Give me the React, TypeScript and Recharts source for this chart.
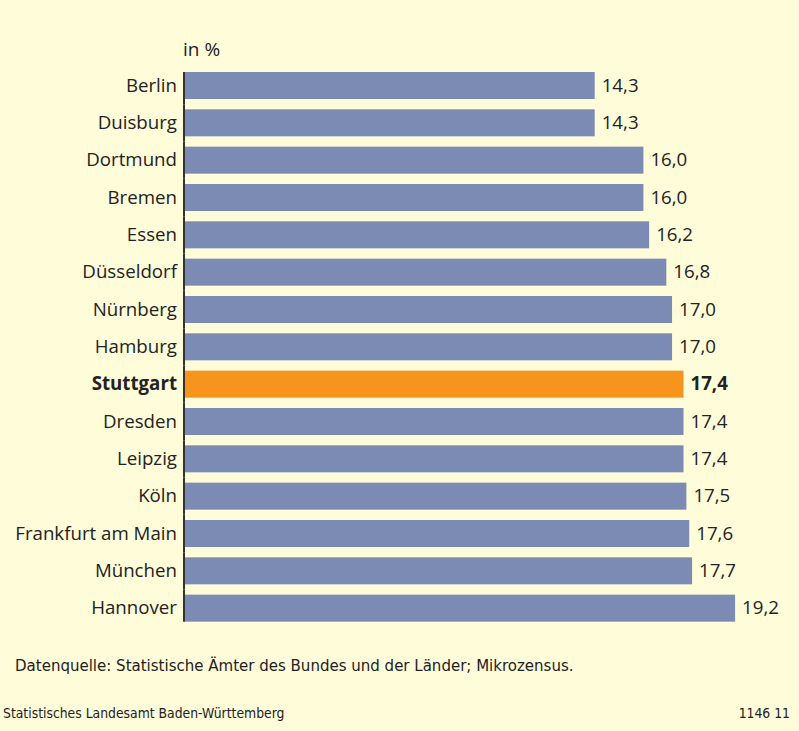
import React from 'react';
import { BarChart, Bar, XAxis, YAxis, Cell, LabelList } from 'recharts';

const cities = ['Berlin', 'Duisburg', 'Dortmund', 'Bremen', 'Essen', 'Düsseldorf', 'Nürnberg', 'Hamburg', 'Stuttgart', 'Dresden', 'Leipzig', 'Köln', 'Frankfurt am Main', 'München', 'Hannover'];
const values = [14.3, 14.3, 16.0, 16.0, 16.2, 16.8, 17.0, 17.0, 17.4, 17.4, 17.4, 17.5, 17.6, 17.7, 19.2];
const highlight = 'Stuttgart';
const unitLabel = 'in %';
const sourceNote = 'Datenquelle: Statistische Ämter des Bundes und der Länder; Mikrozensus.';
const publisher = 'Statistisches Landesamt Baden-Württemberg';
const chartId = '1146 11';

const data = cities.map((name, i) => ({ name, value: values[i] }));

const W = 799;
const H = 731;
const M = { top: 67, right: 41, bottom: 104, left: 0 };
const BAR_SIZE = 27;
const BAND = (H - M.top - M.bottom) / cities.length;
const BG = '#FFFCDA';
const BLUE = '#7B8BB3';
const ORANGE = '#F7941D';
const TEXT = '#222222';
const FONT = "'Open Sans', 'DejaVu Sans', sans-serif";
const NARROW = "'Liberation Sans Narrow', 'DejaVu Sans Condensed', sans-serif";
const FS = 18.7;

const fmt = (v: number) => v.toFixed(1).replace('.', ',');

const BarShape = (props: any) => {
  const { x, y, width, height, fill, index } = props;
  const half = (BAND - height) / 2;
  const y1 = index === 0 ? y : y - half;
  const y2 = index === cities.length - 1 ? y + height : y + height + half;
  return (
    <g>
      <rect x={x} y={y} width={width} height={height} fill={fill} />
      <line x1={x - 1} x2={x - 1} y1={y1} y2={y2} stroke="#333" strokeWidth={2} />
    </g>
  );
};

const CityTick = (props: any) => {
  const { x, y, payload } = props;
  const bold = payload.value === highlight;
  return (
    <text x={x} y={y} dy={6} textAnchor="end" fontFamily={FONT} fontSize={FS} fill={TEXT} fontWeight={bold ? 700 : 400}>
      {payload.value}
    </text>
  );
};

const ValueLabel = (props: any) => {
  const { x, y, width, height, value, index } = props;
  const bold = cities[index] === highlight;
  return (
    <text x={x + width + 7} y={y + height / 2} dy={6} fontFamily={FONT} fontSize={FS} fill={TEXT} fontWeight={bold ? 700 : 400}>
      {fmt(value)}
    </text>
  );
};

export default function App() {
  return (
    <div style={{ position: 'absolute', left: 0, top: 0, width: W, height: H, background: BG, overflow: 'hidden' }}>
      <BarChart width={W} height={H} data={data} layout="vertical" margin={M} barSize={BAR_SIZE}>
        <XAxis type="number" domain={[0, 20]} hide />
        <YAxis type="category" dataKey="name" width={185} axisLine={false} tickLine={false} tick={<CityTick />} interval={0} />
        <Bar dataKey="value" isAnimationActive={false} shape={<BarShape />}>
          {data.map((d) => (
            <Cell key={d.name} fill={d.name === highlight ? ORANGE : BLUE} />
          ))}
          <LabelList dataKey="value" content={<ValueLabel />} />
        </Bar>
      </BarChart>
      <div style={{ position: 'absolute', left: 183, top: 38, fontFamily: FONT, fontSize: 19, lineHeight: '22px', color: TEXT }}>{unitLabel}</div>
      <div style={{ position: 'absolute', left: 15, top: 655, fontFamily: NARROW, fontSize: 16.7, lineHeight: '20px', color: TEXT }}>{sourceNote}</div>
      <div style={{ position: 'absolute', left: 3, top: 705, fontFamily: NARROW, fontSize: 13.8, lineHeight: '16px', color: TEXT }}>{publisher}</div>
      <div style={{ position: 'absolute', right: 9, top: 705, fontFamily: NARROW, fontSize: 13.8, lineHeight: '16px', color: TEXT }}>{chartId}</div>
    </div>
  );
}
